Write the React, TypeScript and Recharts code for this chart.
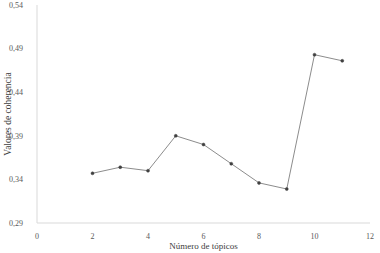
import React from 'react';
import { LineChart, Line, XAxis, YAxis, Label } from 'recharts';

const topics = [2, 3, 4, 5, 6, 7, 8, 9, 10, 11];
const coherence = [0.347, 0.354, 0.35, 0.39, 0.38, 0.358, 0.336, 0.329, 0.483, 0.476];
const xTicks = [0, 2, 4, 6, 8, 10, 12];
const yTicks = [0.29, 0.34, 0.39, 0.44, 0.49, 0.54];

const data = topics.map((t, i) => ({ t, v: coherence[i] }));

const font = '"Liberation Serif", "Times New Roman", serif';

export default function App() {
  return (
    <div style={{ position: 'absolute', left: 0, top: 0, width: 380, height: 253, background: '#fff' }}>
      <LineChart width={380} height={253} data={data} margin={{ top: 5, right: 10, bottom: 0, left: 0 }}>
        <XAxis
          dataKey="t"
          type="number"
          domain={[0, 12]}
          ticks={xTicks}
          tickLine={false}
          axisLine={{ stroke: '#d9d9d9', strokeWidth: 1 }}
          tick={{ fill: '#595959', fontSize: 8, fontFamily: font }}
          tickMargin={4}
          height={30}
        >
          <Label value="Número de tópicos" position="insideBottom" offset={4} style={{ fill: '#404040', fontSize: 9, fontFamily: font }} />
        </XAxis>
        <YAxis
          type="number"
          domain={[0.29, 0.54]}
          ticks={yTicks}
          tickLine={false}
          axisLine={{ stroke: '#d9d9d9', strokeWidth: 1 }}
          tick={{ fill: '#595959', fontSize: 8, fontFamily: font }}
          tickFormatter={(v: number) => v.toFixed(2).replace('.', ',')}
          tickMargin={8}
          width={37}
        >
          <Label value="Valores de coherencia" angle={-90} position="insideLeft" offset={8} style={{ textAnchor: 'middle', fill: '#404040', fontSize: 9.5, fontFamily: font }} />
        </YAxis>
        <Line
          dataKey="v"
          stroke="#8c8c8c"
          strokeWidth={1}
          dot={{ r: 1.5, fill: '#404040', stroke: '#404040', strokeWidth: 0.5 }}
          isAnimationActive={false}
        />
      </LineChart>
    </div>
  );
}
